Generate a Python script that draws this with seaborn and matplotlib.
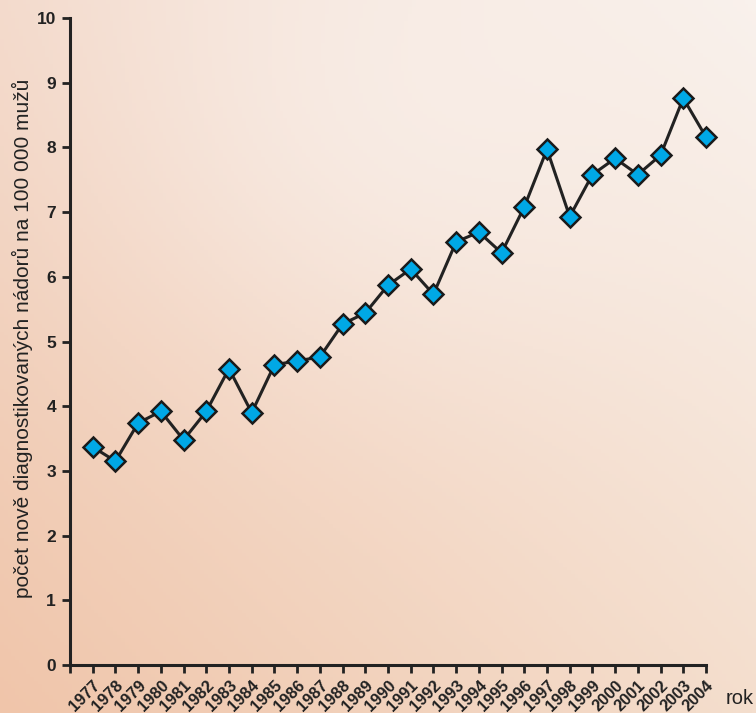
import numpy as np
import pandas as pd
import matplotlib
matplotlib.use("Agg")
import matplotlib.pyplot as plt
import seaborn as sns

years = list(range(1977, 2005))
values = [3.37, 3.15, 3.74, 3.92, 3.48, 3.92, 4.58, 3.90, 4.64, 4.70,
          4.76, 5.27, 5.44, 5.87, 6.12, 5.73, 6.54, 6.69, 6.37, 7.08,
          7.97, 6.93, 7.58, 7.83, 7.58, 7.88, 8.76, 8.16]
y_ticks = list(range(0, 11))
y_label = "počet nově diagnostikovaných nádorů na 100 000 mužů"
x_label = "rok"

df = pd.DataFrame({"rok": years, "pocet": values})

sns.set_style("ticks")
plt.rcParams['font.family'] = ['Liberation Sans', 'DejaVu Sans']

fig = plt.figure(figsize=(7.56, 7.13), dpi=100)

# background gradient (peach at bottom-left, almost white at top-right)
bg = fig.add_axes([0, 0, 1, 1], zorder=-10)
tl = np.array([243, 217, 202]) / 255
tr = np.array([249, 241, 236]) / 255
bl = np.array([240, 197, 170]) / 255
br = np.array([244, 222, 205]) / 255
n = 200
u = np.linspace(0, 1, n)[None, :, None]
v = np.linspace(0, 1, n)[:, None, None]
img = (1 - v) * ((1 - u) * tl + u * tr) + v * ((1 - u) * bl + u * br)
# soft light spot near the top middle
xx, yy = np.meshgrid(np.linspace(0, 1, n), np.linspace(0, 1, n))
spot = np.exp(-(((xx - 0.55) / 0.4) ** 2 + ((yy - 0.15) / 0.35) ** 2))[:, :, None]
img = img * (1 - 0.55 * spot) + np.array([250, 243, 239])[None, None, :] / 255 * 0.55 * spot
bg.imshow(np.clip(img, 0, 1), aspect="auto", extent=[0, 1, 0, 1], origin="upper")
bg.axis("off")

ax = fig.add_axes([70 / 756, 1 - 665 / 713, 636 / 756, 647 / 713])
ax.patch.set_alpha(0)

sns.lineplot(data=df, x="rok", y="pocet", ax=ax, color="#222222", linewidth=2.2,
             marker="D", markersize=10, markerfacecolor="#00a8e6",
             markeredgecolor="#1a1a1a", markeredgewidth=1.8)
for ln in ax.lines:
    ln.set_clip_on(False)

ax.set_xlim(1976, 2004)
ax.set_ylim(0, 10)
ax.set_xticks([1976] + years)
ax.set_xticklabels([""] + [str(y) for y in years], rotation=45, ha="right",
                   rotation_mode="anchor", fontsize=11.8, fontweight="bold",
                   color="#222222")
ax.set_yticks(y_ticks)
ax.set_yticklabels([str(t) for t in y_ticks], fontsize=12.5, fontweight="bold",
                   color="#222222")
ax.tick_params(axis="both", direction="out", length=6, width=2, color="#222222", pad=4)
ax.tick_params(axis="x", pad=3)

for side in ["top", "right"]:
    ax.spines[side].set_visible(False)
for side in ["left", "bottom"]:
    ax.spines[side].set_linewidth(2.2)
    ax.spines[side].set_color("#222222")

ax.set_xlabel("")
ax.set_ylabel("")
fig.text(22 / 756, 1 - 338 / 713, y_label, rotation=90, ha="center", va="center",
         fontsize=15, color="#222222")
fig.text(740 / 756, 1 - 699 / 713, x_label, ha="center", va="center",
         fontsize=14.5, color="#222222")

fig.savefig("out.png", dpi=100)
